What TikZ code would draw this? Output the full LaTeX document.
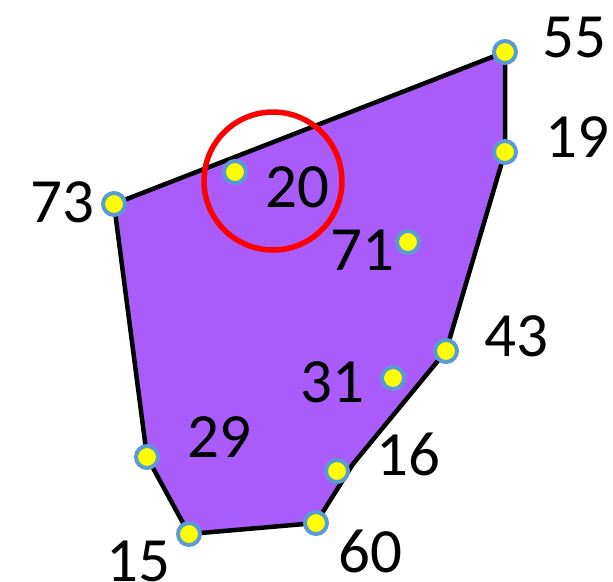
\documentclass[tikz,border=0pt]{standalone}
\usepackage{fontspec}
\setmainfont{Carlito}
\definecolor{poly}{RGB}{170,92,250}
\definecolor{dotedge}{RGB}{91,155,213}
\definecolor{dotfill}{RGB}{255,255,0}
\definecolor{ring}{RGB}{255,0,0}
\begin{document}
\begin{tikzpicture}[x=1pt,y=-1pt,
  pt/.style={circle,fill=dotfill,draw=dotedge,line width=4pt,minimum size=22pt,inner sep=0pt},
  lbl/.style={font=\fontsize{63}{63}\selectfont,inner sep=0pt,text=black}]
\useasboundingbox (0,0) rectangle (613,581);
\coordinate (p55) at (505,52);
\coordinate (p19) at (505,152);
\coordinate (p73) at (114,204);
\coordinate (p20) at (235,172);
\coordinate (p71) at (408,242);
\coordinate (p43) at (446,351);
\coordinate (p31) at (393,378);
\coordinate (p16) at (337,471);
\coordinate (p60) at (316,523);
\coordinate (p29) at (147,457);
\coordinate (p15) at (189,534);
\coordinate (bend) at (353,464);
\fill[poly] (p55) -- (p19) -- (p43) -- (bend) -- (p60) -- (p15) -- (p29) -- (p73) -- cycle;
\draw[line width=4.5pt,line join=round] (p55) -- (p19) -- (p43) -- (bend) -- (p60) -- (p15) -- (p29) -- (p73) -- cycle;
\draw[ring,line width=5.5pt] (273,181) circle (69);
\foreach \n in {55,19,73,20,71,43,31,16,60,29,15}
  \node[pt] (d\n) at (p\n) {};
\node[lbl] (t55) at (574,38) {55};
\node[lbl] (t19) at (577,137) {19};
\node[lbl] (t73) at (62,202) {73};
\node[lbl] (t20) at (297,187) {20};
\node[lbl] (t71) at (362,250) {71};
\node[lbl] (t43) at (516,336) {43};
\node[lbl] (t31) at (332,382) {31};
\node[lbl] (t16) at (408,454) {16};
\node[lbl] (t29) at (219,437) {29};
\node[lbl] (t15) at (138,561) {15};
\node[lbl] (t60) at (370,551) {60};
\end{tikzpicture}
\end{document}
